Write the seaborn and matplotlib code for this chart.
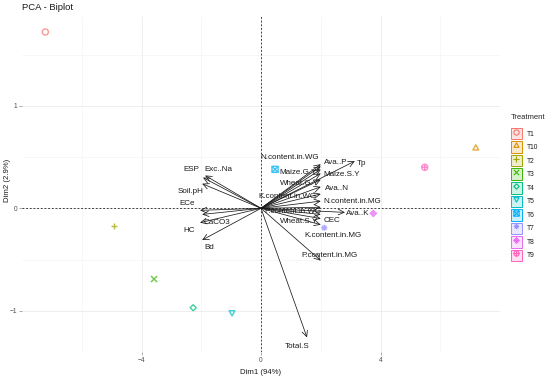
import numpy as np
import pandas as pd
import matplotlib
matplotlib.use("Agg")
import matplotlib.pyplot as plt
import seaborn as sns
from matplotlib.path import Path
from matplotlib.patches import Patch
from matplotlib.lines import Line2D
from matplotlib.legend_handler import HandlerTuple

# ---------------- data ----------------
treatments = ["T1", "T10", "T2", "T3", "T4", "T5", "T6", "T7", "T8", "T9"]
ind_dim1 = [-7.22, 7.19, -4.92, -3.58, -2.27, -0.97, 0.47, 2.12, 3.76, 5.48]
ind_dim2 = [1.72, 0.59, -0.17, -0.69, -0.97, -1.02, 0.38, -0.19, -0.05, 0.40]

variables = ["ESP", "Exc..Na", "Soil.pH", "ECe", "HC", "CaCO3", "Bd",
             "N.content.in.WG", "Ava..P", "Tp", "Maize.G.Y", "Maize.S.Y",
             "Wheat.G.Y", "Ava..N", "K.content.in.WG", "N.content.in.MG",
             "P.content.in.WG", "Ava..K", "Wheat.S.Y", "CEC",
             "K.content.in.MG", "P.content.in.MG", "Total.S"]
var_dim1 = [-1.94, -1.87, -1.97, -2.04, -1.97, -2.04, -1.97,
            2.00, 2.00, 3.14, 2.00, 2.00,
            2.00, 2.00, 2.00, 2.00,
            2.00, 2.81, 2.00, 2.00,
            2.00, 2.00, 1.54]
var_dim2 = [0.30, 0.32, 0.24, -0.02, -0.06, -0.14, -0.31,
            0.43, 0.41, 0.46, 0.38, 0.34,
            0.28, 0.21, 0.14, 0.07,
            0.01, -0.04, -0.06, -0.10,
            -0.16, -0.51, -1.26]

x_label = "Dim1 (94%)"
y_label = "Dim2 (2.9%)"
title = "PCA - Biplot"

# ---------------- style ----------------
colors = ["#F8766D", "#D89000", "#A3A500", "#39B600", "#00BF7D",
          "#00BFC4", "#00B0F6", "#9590FF", "#E76BF3", "#FF62BC"]

# label offsets in pixels (dx right, dy down) relative to arrow tips
label_offsets = {
    "ESP": (-12, -8), "Exc..Na": (13, -6), "Soil.pH": (-12, 8), "ECe": (-13, -7),
    "HC": (-13, 16), "CaCO3": (17, 0), "Bd": (7, 7),
    "N.content.in.WG": (-31, -7), "Ava..P": (15, -4), "Tp": (7, 2),
    "Maize.G.Y": (-23, 3), "Maize.S.Y": (21, 1), "Wheat.G.Y": (-21, 4),
    "Ava..N": (16, 2), "K.content.in.WG": (-33, 3), "N.content.in.MG": (32, 0),
    "P.content.in.WG": (-28, 4), "Ava..K": (13, 1), "Wheat.S.Y": (-22, 7),
    "CEC": (11, 2), "K.content.in.MG": (12, 11), "P.content.in.MG": (9, -5),
    "Total.S": (-10, 9),
}

M, L, C = Path.MOVETO, Path.LINETO, Path.CLOSEPOLY


def poly(pts):
    verts = list(pts) + [pts[0]]
    codes = [M] + [L] * (len(pts) - 1) + [C]
    return Path(verts, codes)


plus = Path([(-1, 0), (1, 0), (0, -1), (0, 1)], [M, L, M, L])
cross = Path([(-1, -1), (1, 1), (-1, 1), (1, -1)], [M, L, M, L])
cross_s = Path([(-.72, -.72), (.72, .72), (-.72, .72), (.72, -.72)], [M, L, M, L])
circle = Path.unit_circle()
tri_up = poly([(0, 1), (-0.95, -0.7), (0.95, -0.7)])
tri_dn = poly([(0, -1), (-0.95, 0.7), (0.95, 0.7)])
diamond = poly([(0, 1), (1, 0), (0, -1), (-1, 0)])
square = poly([(-1, -1), (1, -1), (1, 1), (-1, 1)])

marker_paths = [
    circle,
    tri_up,
    plus,
    cross,
    diamond,
    tri_dn,
    Path.make_compound_path(square, cross),
    Path.make_compound_path(plus, cross_s),
    Path.make_compound_path(diamond, plus),
    Path.make_compound_path(circle, plus),
]

sns.set_theme(style="white")
plt.rcParams["font.family"] = ["Liberation Sans", "DejaVu Sans"]

fig = plt.figure(figsize=(5.5, 3.79), dpi=100)
ax = fig.add_axes([22 / 550, 1 - 352 / 379, 478 / 550, 336 / 379])
ax.set_facecolor("white")

# grid
ax.set_xlim(-8, 8)
ax.set_ylim(-1.402, 1.876)
ax.set_xticks([-4, 0, 4])
ax.set_xticks([-6, -2, 2, 6], minor=True)
ax.set_yticks([-1, 0, 1])
ax.set_yticks([-0.5, 0.5, 1.5], minor=True)
ax.grid(which="major", color="#EBEBEB", lw=0.6)
ax.grid(which="minor", color="#F3F3F3", lw=0.45)
ax.set_axisbelow(True)
for sp in ax.spines.values():
    sp.set_visible(False)
ax.tick_params(which="major", length=2, width=0.5, color="#888888",
               labelsize=4.8, labelcolor="#4D4D4D", pad=1.5,
               bottom=True, left=True)
ax.tick_params(which="minor", length=0)

# reference lines
ax.axhline(0, color="#222222", lw=0.6, ls=(0, (2.2, 2.2)), zorder=1)
ax.axvline(0, color="#222222", lw=0.6, ls=(0, (2.2, 2.2)), zorder=1)

# individuals
df = pd.DataFrame({"Treatment": treatments, "Dim1": ind_dim1, "Dim2": ind_dim2})
sns.scatterplot(data=df, x="Dim1", y="Dim2", hue="Treatment", style="Treatment",
                palette=dict(zip(treatments, colors)),
                markers=dict(zip(treatments, marker_paths)),
                s=19, linewidth=1.0, legend=False, ax=ax, zorder=3)
coll = ax.collections[-1]
fc = coll.get_facecolors().copy()
fc[:, 3] = 0.75
coll.set_edgecolors(fc)
coll.set_facecolors("none")

# variables
for name, vx, vy in zip(variables, var_dim1, var_dim2):
    ax.annotate("", xy=(vx, vy), xytext=(0, 0),
                arrowprops=dict(arrowstyle="->,head_length=0.35,head_width=0.17",
                                color="#1a1a1a", lw=0.55, shrinkA=0, shrinkB=0),
                zorder=4)
for name, vx, vy in zip(variables, var_dim1, var_dim2):
    dx, dy = label_offsets[name]
    ax.annotate(name, xy=(vx, vy), xytext=(dx, -dy), textcoords="offset pixels",
                ha="center", va="center", fontsize=5.8, color="#1a1a1a", zorder=5)

# labels
ax.set_xlabel(x_label, fontsize=5.6, color="#1a1a1a", va="center")
ax.xaxis.set_label_coords(0.5, -0.0625)
ax.set_ylabel(y_label, fontsize=5.6, color="#1a1a1a", va="center")
ax.yaxis.set_label_coords(-0.0293, 0.512)
fig.text(22 / 550, 1 - 8 / 379, title, fontsize=6.8, ha="left", va="center",
         color="#1a1a1a")

# legend
handles = []
for t, c, p in zip(treatments, colors, marker_paths):
    patch = Patch(facecolor=matplotlib.colors.to_rgba(c, 0.2), edgecolor=c, lw=0.7)
    mk = Line2D([], [], marker=p, ls="", markersize=3.8, markeredgecolor=c,
                markerfacecolor="none", markeredgewidth=0.8)
    handles.append((patch, mk))
leg = ax.legend(handles, treatments,
                handler_map={tuple: HandlerTuple(ndivide=1, pad=0)},
                loc="upper left", bbox_to_anchor=(511 / 550, 1 - 114 / 379),
                bbox_transform=fig.transFigure, frameon=False, title="Treatment",
                fontsize=4.8, title_fontsize=5.5, handlelength=1.6, handleheight=2.28,
                labelspacing=0.3, handletextpad=0.7, borderpad=0, borderaxespad=0,
                alignment="left")
leg._legend_box.sep = 5
for txt in leg.get_texts():
    txt.set_color("#1a1a1a")

fig.savefig("out.png", dpi=100, facecolor="white")
